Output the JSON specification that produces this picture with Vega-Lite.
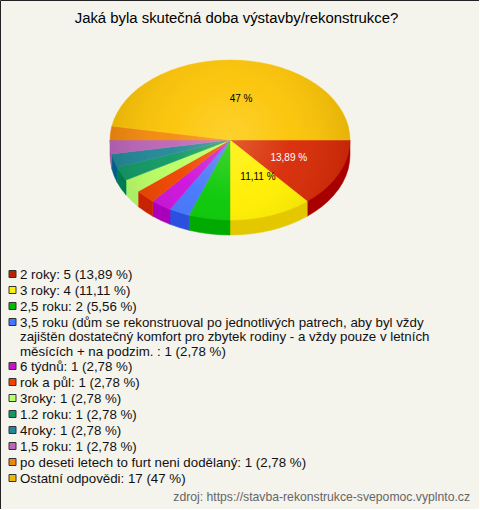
{
"$schema":"https://vega.github.io/schema/vega-lite/v6.json",
"width":479,"height":509,"padding":0,"autosize":{"type":"none"},
"background":"#f4f3ec",
"view":{"stroke":"#222222","strokeWidth":1,"fill":"#f4f3ec"},
"title":{"text":"Jaká byla skutečná doba výstavby/rekonstrukce?","font":"Liberation Sans","fontSize":14.9,"fontWeight":"normal","color":"#000000","anchor":"middle","frame":"group","offset":-26,"dx":-3},
"datasets":{
"top":[
{"s":"2 roky","a":-1,"x":0,"y":0},{"s":"2 roky","a":0,"x":1,"y":0},{"s":"2 roky","a":5,"x":0.996,"y":-0.087},{"s":"2 roky","a":10,"x":0.985,"y":-0.174},{"s":"2 roky","a":15,"x":0.966,"y":-0.259},{"s":"2 roky","a":20,"x":0.94,"y":-0.342},{"s":"2 roky","a":25,"x":0.906,"y":-0.423},{"s":"2 roky","a":30,"x":0.866,"y":-0.5},{"s":"2 roky","a":35,"x":0.819,"y":-0.574},{"s":"2 roky","a":40,"x":0.766,"y":-0.643},{"s":"2 roky","a":45,"x":0.707,"y":-0.707},{"s":"2 roky","a":50,"x":0.643,"y":-0.766},
{"s":"3 roky","a":-1,"x":0,"y":0},{"s":"3 roky","a":50,"x":0.643,"y":-0.766},{"s":"3 roky","a":55,"x":0.574,"y":-0.819},{"s":"3 roky","a":60,"x":0.5,"y":-0.866},{"s":"3 roky","a":65,"x":0.423,"y":-0.906},{"s":"3 roky","a":70,"x":0.342,"y":-0.94},{"s":"3 roky","a":75,"x":0.259,"y":-0.966},{"s":"3 roky","a":80,"x":0.174,"y":-0.985},{"s":"3 roky","a":85,"x":0.087,"y":-0.996},{"s":"3 roky","a":90,"x":0,"y":-1},
{"s":"2,5 roku","a":-1,"x":0,"y":0},{"s":"2,5 roku","a":90,"x":0,"y":-1},{"s":"2,5 roku","a":95,"x":-0.087,"y":-0.996},{"s":"2,5 roku","a":100,"x":-0.174,"y":-0.985},{"s":"2,5 roku","a":105,"x":-0.259,"y":-0.966},{"s":"2,5 roku","a":110,"x":-0.342,"y":-0.94},
{"s":"3,5 roku","a":-1,"x":0,"y":0},{"s":"3,5 roku","a":110,"x":-0.342,"y":-0.94},{"s":"3,5 roku","a":115,"x":-0.423,"y":-0.906},{"s":"3,5 roku","a":120,"x":-0.5,"y":-0.866},
{"s":"6 týdnů","a":-1,"x":0,"y":0},{"s":"6 týdnů","a":120,"x":-0.5,"y":-0.866},{"s":"6 týdnů","a":125,"x":-0.574,"y":-0.819},{"s":"6 týdnů","a":130,"x":-0.643,"y":-0.766},
{"s":"rok a půl","a":-1,"x":0,"y":0},{"s":"rok a půl","a":130,"x":-0.643,"y":-0.766},{"s":"rok a půl","a":135,"x":-0.707,"y":-0.707},{"s":"rok a půl","a":140,"x":-0.766,"y":-0.643},
{"s":"3roky","a":-1,"x":0,"y":0},{"s":"3roky","a":140,"x":-0.766,"y":-0.643},{"s":"3roky","a":145,"x":-0.819,"y":-0.574},{"s":"3roky","a":150,"x":-0.866,"y":-0.5},
{"s":"1.2 roku","a":-1,"x":0,"y":0},{"s":"1.2 roku","a":150,"x":-0.866,"y":-0.5},{"s":"1.2 roku","a":155,"x":-0.906,"y":-0.423},{"s":"1.2 roku","a":160,"x":-0.94,"y":-0.342},
{"s":"4roky","a":-1,"x":0,"y":0},{"s":"4roky","a":160,"x":-0.94,"y":-0.342},{"s":"4roky","a":165,"x":-0.966,"y":-0.259},{"s":"4roky","a":170,"x":-0.985,"y":-0.174},
{"s":"1,5 roku","a":-1,"x":0,"y":0},{"s":"1,5 roku","a":170,"x":-0.985,"y":-0.174},{"s":"1,5 roku","a":175,"x":-0.996,"y":-0.087},{"s":"1,5 roku","a":180,"x":-1,"y":0},
{"s":"po deseti letech","a":-1,"x":0,"y":0},{"s":"po deseti letech","a":180,"x":-1,"y":0},{"s":"po deseti letech","a":185,"x":-0.996,"y":0.087},{"s":"po deseti letech","a":190,"x":-0.985,"y":0.174},
{"s":"Ostatní","a":-1,"x":0,"y":0},{"s":"Ostatní","a":190,"x":-0.985,"y":0.174},{"s":"Ostatní","a":195,"x":-0.966,"y":0.259},{"s":"Ostatní","a":200,"x":-0.94,"y":0.342},{"s":"Ostatní","a":205,"x":-0.906,"y":0.423},{"s":"Ostatní","a":210,"x":-0.866,"y":0.5},{"s":"Ostatní","a":215,"x":-0.819,"y":0.574},{"s":"Ostatní","a":220,"x":-0.766,"y":0.643},{"s":"Ostatní","a":225,"x":-0.707,"y":0.707},{"s":"Ostatní","a":230,"x":-0.643,"y":0.766},{"s":"Ostatní","a":235,"x":-0.574,"y":0.819},{"s":"Ostatní","a":240,"x":-0.5,"y":0.866},{"s":"Ostatní","a":245,"x":-0.423,"y":0.906},{"s":"Ostatní","a":250,"x":-0.342,"y":0.94},{"s":"Ostatní","a":255,"x":-0.259,"y":0.966},{"s":"Ostatní","a":260,"x":-0.174,"y":0.985},{"s":"Ostatní","a":265,"x":-0.087,"y":0.996},{"s":"Ostatní","a":270,"x":0,"y":1},{"s":"Ostatní","a":275,"x":0.087,"y":0.996},{"s":"Ostatní","a":280,"x":0.174,"y":0.985},{"s":"Ostatní","a":285,"x":0.259,"y":0.966},{"s":"Ostatní","a":290,"x":0.342,"y":0.94},{"s":"Ostatní","a":295,"x":0.423,"y":0.906},{"s":"Ostatní","a":300,"x":0.5,"y":0.866},{"s":"Ostatní","a":305,"x":0.574,"y":0.819},{"s":"Ostatní","a":310,"x":0.643,"y":0.766},{"s":"Ostatní","a":315,"x":0.707,"y":0.707},{"s":"Ostatní","a":320,"x":0.766,"y":0.643},{"s":"Ostatní","a":325,"x":0.819,"y":0.574},{"s":"Ostatní","a":330,"x":0.866,"y":0.5},{"s":"Ostatní","a":335,"x":0.906,"y":0.423},{"s":"Ostatní","a":340,"x":0.94,"y":0.342},{"s":"Ostatní","a":345,"x":0.966,"y":0.259},{"s":"Ostatní","a":350,"x":0.985,"y":0.174},{"s":"Ostatní","a":355,"x":0.996,"y":0.087},{"s":"Ostatní","a":360,"x":1,"y":0}
],
"side":[
{"s":"2 roky","o":0,"x":1,"y":0},{"s":"2 roky","o":1,"x":0.643,"y":-0.766},{"s":"2 roky","o":2,"x":0.643,"y":-0.954},{"s":"2 roky","o":3,"x":0.707,"y":-0.895},{"s":"2 roky","o":4,"x":0.766,"y":-0.831},{"s":"2 roky","o":5,"x":0.819,"y":-0.762},{"s":"2 roky","o":6,"x":0.866,"y":-0.688},{"s":"2 roky","o":7,"x":0.906,"y":-0.611},{"s":"2 roky","o":8,"x":0.94,"y":-0.53},{"s":"2 roky","o":9,"x":0.966,"y":-0.447},{"s":"2 roky","o":10,"x":0.985,"y":-0.362},{"s":"2 roky","o":11,"x":0.996,"y":-0.275},{"s":"2 roky","o":12,"x":1,"y":-0.188},
{"s":"3 roky","o":0,"x":0.643,"y":-0.766},{"s":"3 roky","o":1,"x":0,"y":-1},{"s":"3 roky","o":2,"x":0,"y":-1.188},{"s":"3 roky","o":3,"x":0.087,"y":-1.184},{"s":"3 roky","o":4,"x":0.174,"y":-1.173},{"s":"3 roky","o":5,"x":0.259,"y":-1.154},{"s":"3 roky","o":6,"x":0.342,"y":-1.128},{"s":"3 roky","o":7,"x":0.423,"y":-1.094},{"s":"3 roky","o":8,"x":0.5,"y":-1.054},{"s":"3 roky","o":9,"x":0.574,"y":-1.007},{"s":"3 roky","o":10,"x":0.643,"y":-0.954},
{"s":"2,5 roku","o":0,"x":0,"y":-1},{"s":"2,5 roku","o":1,"x":-0.342,"y":-0.94},{"s":"2,5 roku","o":2,"x":-0.342,"y":-1.128},{"s":"2,5 roku","o":3,"x":-0.259,"y":-1.154},{"s":"2,5 roku","o":4,"x":-0.174,"y":-1.173},{"s":"2,5 roku","o":5,"x":-0.087,"y":-1.184},{"s":"2,5 roku","o":6,"x":0,"y":-1.188},
{"s":"3,5 roku","o":0,"x":-0.342,"y":-0.94},{"s":"3,5 roku","o":1,"x":-0.5,"y":-0.866},{"s":"3,5 roku","o":2,"x":-0.5,"y":-1.054},{"s":"3,5 roku","o":3,"x":-0.423,"y":-1.094},{"s":"3,5 roku","o":4,"x":-0.342,"y":-1.128},
{"s":"6 týdnů","o":0,"x":-0.5,"y":-0.866},{"s":"6 týdnů","o":1,"x":-0.643,"y":-0.766},{"s":"6 týdnů","o":2,"x":-0.643,"y":-0.954},{"s":"6 týdnů","o":3,"x":-0.574,"y":-1.007},{"s":"6 týdnů","o":4,"x":-0.5,"y":-1.054},
{"s":"rok a půl","o":0,"x":-0.643,"y":-0.766},{"s":"rok a půl","o":1,"x":-0.766,"y":-0.643},{"s":"rok a půl","o":2,"x":-0.766,"y":-0.831},{"s":"rok a půl","o":3,"x":-0.707,"y":-0.895},{"s":"rok a půl","o":4,"x":-0.643,"y":-0.954},
{"s":"3roky","o":0,"x":-0.766,"y":-0.643},{"s":"3roky","o":1,"x":-0.866,"y":-0.5},{"s":"3roky","o":2,"x":-0.866,"y":-0.688},{"s":"3roky","o":3,"x":-0.819,"y":-0.762},{"s":"3roky","o":4,"x":-0.766,"y":-0.831},
{"s":"1.2 roku","o":0,"x":-0.866,"y":-0.5},{"s":"1.2 roku","o":1,"x":-0.94,"y":-0.342},{"s":"1.2 roku","o":2,"x":-0.94,"y":-0.53},{"s":"1.2 roku","o":3,"x":-0.906,"y":-0.611},{"s":"1.2 roku","o":4,"x":-0.866,"y":-0.688},
{"s":"4roky","o":0,"x":-0.94,"y":-0.342},{"s":"4roky","o":1,"x":-0.985,"y":-0.174},{"s":"4roky","o":2,"x":-0.985,"y":-0.362},{"s":"4roky","o":3,"x":-0.966,"y":-0.447},{"s":"4roky","o":4,"x":-0.94,"y":-0.53},
{"s":"1,5 roku","o":0,"x":-0.985,"y":-0.174},{"s":"1,5 roku","o":1,"x":-1,"y":0},{"s":"1,5 roku","o":2,"x":-1,"y":-0.188},{"s":"1,5 roku","o":3,"x":-0.996,"y":-0.275},{"s":"1,5 roku","o":4,"x":-0.985,"y":-0.362}
],
"pielabels":[
{"t":"13,89 %","x":0.49,"y":-0.225,"c":"#ffffff"},
{"t":"11,11 %","x":0.233,"y":-0.4625,"c":"#000000"},
{"t":"47 %","x":0.092,"y":0.5125,"c":"#000000"}
],
"legend":[
{"s":"2 roky","row":0,"first":true,"t":"2 roky: 5 (13,89 %)"},
{"s":"3 roky","row":1,"first":true,"t":"3 roky: 4 (11,11 %)"},
{"s":"2,5 roku","row":2,"first":true,"t":"2,5 roku: 2 (5,56 %)"},
{"s":"3,5 roku","row":3,"first":true,"t":"3,5 roku (dům se rekonstruoval po jednotlivých patrech, aby byl vždy"},
{"s":"3,5 roku","row":3.9,"first":false,"t":"zajištěn dostatečný komfort pro zbytek rodiny - a vždy pouze v letních"},
{"s":"3,5 roku","row":4.8,"first":false,"t":"měsících + na podzim. : 1 (2,78 %)"},
{"s":"6 týdnů","row":5.75,"first":true,"t":"6 týdnů: 1 (2,78 %)"},
{"s":"rok a půl","row":6.75,"first":true,"t":"rok a půl: 1 (2,78 %)"},
{"s":"3roky","row":7.75,"first":true,"t":"3roky: 1 (2,78 %)"},
{"s":"1.2 roku","row":8.75,"first":true,"t":"1.2 roku: 1 (2,78 %)"},
{"s":"4roky","row":9.75,"first":true,"t":"4roky: 1 (2,78 %)"},
{"s":"1,5 roku","row":10.75,"first":true,"t":"1,5 roku: 1 (2,78 %)"},
{"s":"po deseti letech","row":11.75,"first":true,"t":"po deseti letech to furt neni dodělaný: 1 (2,78 %)"},
{"s":"Ostatní","row":12.75,"first":true,"t":"Ostatní odpovědi: 17 (47 %)"}
],
"foot":[{"t":"zdroj: https://stavba-rekonstrukce-svepomoc.vyplnto.cz"}]
},
"layer":[
{"data":{"name":"side"},
 "mark":{"type":"line","interpolate":"linear-closed","strokeWidth":0.5},
 "encoding":{
  "x":{"field":"x","type":"quantitative","axis":null,"scale":{"domain":[-1,1],"range":[110,350],"zero":false,"nice":false}},
  "y":{"field":"y","type":"quantitative","axis":null,"scale":{"domain":[-1,1],"range":[220,60],"zero":false,"nice":false}},
  "order":{"field":"o","type":"quantitative"},
  "fill":{"field":"s","type":"nominal","legend":null,"scale":{"domain":["2 roky","3 roky","2,5 roku","3,5 roku","6 týdnů","rok a půl","3roky","1.2 roku","4roky","1,5 roku"],"range":["#a80000","#e3c800","#00aa00","#2b50e0","#aa00bb","#c82200","#aaee66","#007a50","#005f88","#a050a0"]}},
  "stroke":{"field":"s","type":"nominal","legend":null,"scale":{"domain":["2 roky","3 roky","2,5 roku","3,5 roku","6 týdnů","rok a půl","3roky","1.2 roku","4roky","1,5 roku"],"range":["#a80000","#e3c800","#00aa00","#2b50e0","#aa00bb","#c82200","#aaee66","#007a50","#005f88","#a050a0"]}}
 }},
{"data":{"name":"top"},
 "mark":{"type":"line","interpolate":"linear-closed","strokeWidth":0.5},
 "encoding":{
  "x":{"field":"x","type":"quantitative","axis":null,"scale":{"domain":[-1,1],"range":[110,350],"zero":false,"nice":false}},
  "y":{"field":"y","type":"quantitative","axis":null,"scale":{"domain":[-1,1],"range":[220,60],"zero":false,"nice":false}},
  "order":{"field":"a","type":"quantitative"},
  "fill":{"field":"s","type":"nominal","legend":null,"scale":{"domain":["2 roky","3 roky","2,5 roku","3,5 roku","6 týdnů","rok a půl","3roky","1.2 roku","4roky","1,5 roku","po deseti letech","Ostatní"],"range":["#d82a08","#ffee00","#08c808","#4477ff","#cc11dd","#ee4400","#bbff66","#119966","#228899","#bb66bb","#f48a10","#fcc408"]}},
  "stroke":{"field":"s","type":"nominal","legend":null,"scale":{"domain":["2 roky","3 roky","2,5 roku","3,5 roku","6 týdnů","rok a půl","3roky","1.2 roku","4roky","1,5 roku","po deseti letech","Ostatní"],"range":["#d82a08","#ffee00","#08c808","#4477ff","#cc11dd","#ee4400","#bbff66","#119966","#228899","#bb66bb","#f48a10","#fcc408"]}}
 }},
{"data":{"name":"top"},
 "transform":[{"filter":"datum.a>=0"}],
 "mark":{"type":"line","interpolate":"linear-closed","stroke":null,"fill":{"gradient":"radial","x1":0.5,"y1":0.5,"x2":0.5,"y2":0.5,"r1":0,"r2":0.5,"stops":[{"offset":0,"color":"rgba(255,255,160,0.24)"},{"offset":0.5,"color":"rgba(255,255,200,0.04)"},{"offset":1,"color":"rgba(0,0,0,0.09)"}]}},
 "encoding":{
  "x":{"field":"x","type":"quantitative","axis":null,"scale":{"domain":[-1,1],"range":[110,350],"zero":false,"nice":false}},
  "y":{"field":"y","type":"quantitative","axis":null,"scale":{"domain":[-1,1],"range":[220,60],"zero":false,"nice":false}},
  "order":{"field":"a","type":"quantitative"}
 }},
{"data":{"name":"pielabels"},
 "mark":{"type":"text","font":"Liberation Sans","fontSize":10,"align":"center","baseline":"middle"},
 "encoding":{
  "x":{"field":"x","type":"quantitative","axis":null,"scale":{"domain":[-1,1],"range":[110,350],"zero":false,"nice":false}},
  "y":{"field":"y","type":"quantitative","axis":null,"scale":{"domain":[-1,1],"range":[220,60],"zero":false,"nice":false}},
  "text":{"field":"t","type":"nominal"},
  "color":{"field":"c","type":"nominal","legend":null,"scale":null}
 }},
{"data":{"name":"legend"},
 "transform":[{"filter":"datum.first"}],
 "mark":{"type":"point","shape":"square","filled":true,"size":49,"stroke":"#333333","strokeWidth":1,"opacity":1},
 "encoding":{
  "x":{"datum":0,"type":"quantitative","axis":null,"scale":{"domain":[0,1],"range":[12.5,20],"zero":false,"nice":false}},
  "y":{"field":"row","type":"quantitative","axis":null,"scale":{"domain":[0,12.75],"range":[274,478],"zero":false,"nice":false}},
  "fill":{"field":"s","type":"nominal","legend":null,"scale":{"domain":["2 roky","3 roky","2,5 roku","3,5 roku","6 týdnů","rok a půl","3roky","1.2 roku","4roky","1,5 roku","po deseti letech","Ostatní"],"range":["#bb2200","#ffee00","#00bb00","#4477ff","#cc11cc","#ee4400","#bbff66","#119966","#228899","#bb66bb","#ee8811","#eeb800"]}}
 }},
{"data":{"name":"legend"},
 "mark":{"type":"text","font":"Liberation Sans","fontSize":13.3,"align":"left","baseline":"middle","color":"#111111"},
 "encoding":{
  "x":{"datum":1,"type":"quantitative","axis":null,"scale":{"domain":[0,1],"range":[12.5,20],"zero":false,"nice":false}},
  "y":{"field":"row","type":"quantitative","axis":null,"scale":{"domain":[0,12.75],"range":[275,479],"zero":false,"nice":false}},
  "text":{"field":"t","type":"nominal"}
 }},
{"data":{"name":"foot"},
 "mark":{"type":"text","font":"Liberation Sans","fontSize":12.2,"align":"right","baseline":"middle","color":"#666666"},
 "encoding":{
  "x":{"datum":1,"type":"quantitative","axis":null,"scale":{"domain":[0,1],"range":[0,470],"zero":false,"nice":false}},
  "y":{"datum":1,"type":"quantitative","axis":null,"scale":{"domain":[0,1],"range":[0,497],"zero":false,"nice":false}},
  "text":{"field":"t","type":"nominal"}
 }}
],
"resolve":{"scale":{"x":"independent","y":"independent","fill":"independent","stroke":"independent"}}
}
